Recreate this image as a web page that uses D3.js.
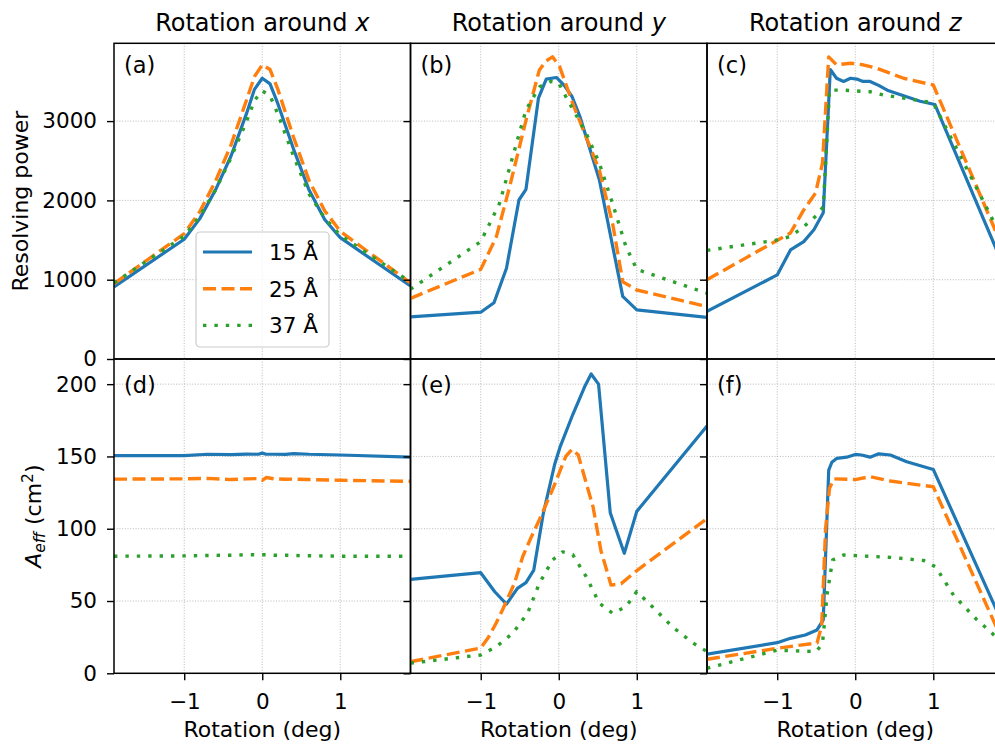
<!DOCTYPE html>
<html>
<head>
<meta charset="utf-8">
<script src="https://cdn.jsdelivr.net/npm/d3@7"></script>
<style>
  html, body { margin: 0; padding: 0; background: #fff; }
  svg { display: block; font-family: "DejaVu Sans", sans-serif; }
</style>
</head>
<body>
<svg id="chart" width="995" height="744"></svg>
<script>
// ---- axis ticks ----
const angleTicks = [-1, 0, 1];
const resTicks = [0, 1000, 2000, 3000];
const aeffTicks = [0, 50, 100, 150, 200];
const wavelengths = ["15 Å", "25 Å", "37 Å"];
const columnTitles = ["x", "y", "z"];
const panelTags = ["(a)", "(b)", "(c)", "(d)", "(e)", "(f)"];

// ---- (a) resolving power, rotation around x ----
const rxAngle  = [-1.9, -1, -0.8, -0.6, -0.4, -0.2, -0.1, 0, 0.1, 0.2, 0.4, 0.6, 0.8, 1, 1.9];
const rxRes15  = [910, 1510, 1770, 2130, 2560, 3100, 3400, 3540, 3470, 3220, 2650, 2130, 1760, 1530, 920];
const rxRes25  = [950, 1580, 1860, 2240, 2700, 3270, 3560, 3710, 3650, 3400, 2800, 2250, 1870, 1610, 960];
const rxRes37  = [960, 1550, 1800, 2130, 2540, 3000, 3260, 3380, 3320, 3090, 2560, 2080, 1780, 1560, 970];

// ---- (b) resolving power, rotation around y ----
const ryAngle15 = [-1.9, -1, -0.83, -0.67, -0.51, -0.42, -0.26, -0.16, -0.03, 0.07, 0.17, 0.27, 0.52, 0.82, 1, 1.9];
const ryRes15   = [530, 590, 710, 1145, 2005, 2140, 3290, 3530, 3550, 3450, 3310, 3060, 2260, 790, 620, 525];
const ryAngle25 = [-1.9, -1, -0.8, -0.63, -0.42, -0.25, -0.16, -0.08, 0.01, 0.18, 0.35, 0.52, 0.69, 0.82, 1, 1.9];
const ryRes25   = [765, 1130, 1540, 2170, 3010, 3640, 3760, 3810, 3690, 3220, 2800, 2380, 1710, 975, 870, 660];
const ryAngle37 = [-1.9, -1, -0.76, -0.59, -0.42, -0.25, -0.1, 0, 0.09, 0.35, 0.52, 0.69, 0.86, 1, 1.9];
const ryRes37   = [880, 1480, 1960, 2550, 3140, 3430, 3500, 3480, 3310, 2850, 2470, 1960, 1420, 1130, 830];

// ---- (c) resolving power, rotation around z ----
const rzAngle15 = [-1.9, -1, -0.83, -0.66, -0.53, -0.41, -0.32, -0.24, -0.15, -0.06, 0.02, 0.1, 0.19, 0.3, 0.41, 0.62, 0.83, 1.02, 1.9];
const rzRes15   = [600, 1060, 1375, 1480, 1630, 1845, 3650, 3540, 3500, 3540, 3530, 3500, 3500, 3450, 3390, 3320, 3250, 3210, 1170];
const rzAngle25 = [-1.9, -0.83, -0.66, -0.51, -0.42, -0.34, -0.24, -0.06, 0.1, 0.28, 0.62, 1.0, 1.9];
const rzRes25   = [1000, 1590, 1880, 2090, 2470, 3810, 3710, 3730, 3710, 3665, 3540, 3455, 1380];
const rzAngle37 = [-1.9, -1, -0.83, -0.66, -0.49, -0.41, -0.33, -0.15, 0.02, 0.19, 0.36, 0.62, 1.0, 1.9];
const rzRes37   = [1370, 1500, 1545, 1670, 1815, 1920, 3390, 3390, 3380, 3370, 3330, 3290, 3230, 1490];

// ---- (d) effective area, rotation around x ----
const axAngle  = [-1.9, -1, -0.7, -0.4, -0.2, -0.05, 0, 0.05, 0.15, 0.3, 0.4, 0.6, 1, 1.9];
const axArea15 = [150.5, 150.5, 151.5, 151.3, 151.6, 151.5, 152.3, 151.5, 151.5, 151.4, 152, 151.5, 151, 149.5];
const axArea25 = [134.3, 134.5, 134.8, 134, 134.5, 134.7, 133.5, 135.4, 134.5, 134.2, 134.3, 134, 133.5, 132.8];
const axArea37 = [81, 81.2, 81.5, 81.7, 82, 82, 82, 82, 81.7, 81.7, 81.5, 81.3, 81, 81];

// ---- (e) effective area, rotation around y ----
const ayAngle15 = [-1.9, -1, -0.82, -0.67, -0.53, -0.42, -0.32, -0.2, -0.05, 0.02, 0.18, 0.33, 0.415, 0.51, 0.66, 0.84, 1.0, 1.9];
const ayArea15  = [65, 69.6, 56.4, 47.9, 58.8, 62.7, 71.4, 110, 145, 157, 179, 198, 207, 200, 111, 83, 112, 171];
const ayAngle25 = [-1.9, -1, -0.9, -0.8, -0.72, -0.57, -0.46, -0.35, -0.25, -0.08, 0.09, 0.17, 0.25, 0.44, 0.54, 0.67, 0.8, 1.0, 1.9];
const ayArea25  = [8, 17.5, 25, 35, 44, 62, 81, 94.5, 106, 127, 150, 155, 151, 115, 85, 61, 62, 71, 107];
const ayAngle37 = [-1.9, -1, -0.8, -0.59, -0.4, -0.25, -0.08, 0.05, 0.18, 0.35, 0.52, 0.69, 0.86, 1.0, 1.2, 1.46, 1.72, 1.9];
const ayArea37  = [7, 12.7, 18.4, 27.7, 41.5, 62, 78.4, 84, 82, 67, 48.5, 41.5, 46, 56.5, 46, 32, 21, 15];

// ---- (f) effective area, rotation around z ----
const azAngle15 = [-1.9, -1, -0.83, -0.64, -0.49, -0.41, -0.34, -0.3, -0.235, -0.11, 0, 0.08, 0.19, 0.3, 0.45, 0.66, 1.0, 1.9];
const azArea15  = [13.3, 21.2, 24.2, 26.5, 30, 37, 140.6, 146, 148.7, 149.5, 151.4, 151, 149.5, 151.8, 151, 146.3, 141, 33];
const azAngle25 = [-1.9, -1, -0.49, -0.43, -0.38, -0.33, -0.27, 0, 0.19, 0.45, 1.0, 1.9];
const azArea25  = [9.7, 17.3, 21, 33, 100, 128, 134.5, 134, 136, 133, 129, 21];
const azAngle37 = [-1.9, -1, -0.5, -0.42, -0.36, -0.29, -0.15, 0, 0.45, 0.88, 1.03, 1.26, 1.56, 1.73, 1.9];
const azArea37  = [3.5, 16, 15, 20.7, 55, 78.4, 81.8, 81.4, 80.2, 78, 73.7, 54, 37, 29, 20];

// ---- series styling ----
const seriesStyle = [
  { color: "#1f77b4", width: 3.2, dash: null },
  { color: "#ff7f0e", width: 3.4, dash: "13,5.5" },
  { color: "#2ca02c", width: 3.4, dash: "3.4,8" }
];

const zip = (xs, ys) => xs.map((x, i) => [x, ys[i]]);

const panels = [
  { row: 0, col: 0, series: [zip(rxAngle, rxRes15), zip(rxAngle, rxRes25), zip(rxAngle, rxRes37)] },
  { row: 0, col: 1, series: [zip(ryAngle15, ryRes15), zip(ryAngle25, ryRes25), zip(ryAngle37, ryRes37)] },
  { row: 0, col: 2, series: [zip(rzAngle15, rzRes15), zip(rzAngle25, rzRes25), zip(rzAngle37, rzRes37)] },
  { row: 1, col: 0, series: [zip(axAngle, axArea15), zip(axAngle, axArea25), zip(axAngle, axArea37)] },
  { row: 1, col: 1, series: [zip(ayAngle15, ayArea15), zip(ayAngle25, ayArea25), zip(ayAngle37, ayArea37)] },
  { row: 1, col: 2, series: [zip(azAngle15, azArea15), zip(azAngle25, azArea25), zip(azAngle37, azArea37)] }
];

// ---- layout ----
const colLeft = 114, colWidth = 296.5;
const rowTop = [43.3, 359], rowBottom = [359, 673.3];
const angleDomain = [-1.9, 1.9];
const yDomains = [[0, 3981], [0, 217.4]];
const yTicks = [resTicks, aeffTicks];
const tickLabel = d => (d < 0 ? "\u2212" + Math.abs(d) : String(d));

const svg = d3.select("#chart");
const defs = svg.append("defs");

const xScales = [0, 1, 2].map(c =>
  d3.scaleLinear().domain(angleDomain).range([colLeft + c * colWidth, colLeft + (c + 1) * colWidth]));
const yScales = [0, 1].map(r =>
  d3.scaleLinear().domain(yDomains[r]).range([rowBottom[r], rowTop[r]]));

const line = (x, y) => d3.line().x(d => x(d[0])).y(d => y(d[1]));

panels.forEach((p, i) => {
  const x = xScales[p.col], y = yScales[p.row];
  const [x0, x1] = x.range();
  const [y1, y0] = y.range();
  const g = svg.append("g");

  defs.append("clipPath").attr("id", "clip" + i)
    .append("rect").attr("x", x0).attr("y", y0).attr("width", x1 - x0).attr("height", y1 - y0);

  // dotted grid
  const grid = g.append("g").attr("stroke", "#b0b0b0").attr("stroke-width", 0.9)
    .attr("stroke-dasharray", "1,1.7");
  angleTicks.forEach(t => grid.append("line")
    .attr("x1", x(t)).attr("x2", x(t)).attr("y1", y0).attr("y2", y1));
  yTicks[p.row].forEach(t => grid.append("line")
    .attr("x1", x0).attr("x2", x1).attr("y1", y(t)).attr("y2", y(t)));

  // data lines
  const lines = g.append("g").attr("clip-path", `url(#clip${i})`);
  p.series.forEach((s, k) => {
    const st = seriesStyle[k];
    lines.append("path").datum(s)
      .attr("d", line(x, y))
      .attr("fill", "none")
      .attr("stroke", st.color)
      .attr("stroke-width", st.width)
      .attr("stroke-linejoin", "round")
      .attr("stroke-dasharray", st.dash);
  });

  // left axis with outward ticks
  const yAxis = d3.axisLeft(y).tickValues(yTicks[p.row]).tickSize(7).tickPadding(10).tickSizeOuter(0)
    .tickFormat(p.col === 0 ? tickLabel : "");
  const ya = g.append("g").attr("transform", `translate(${x0},0)`).call(yAxis);
  ya.select(".domain").remove();
  ya.selectAll("line").attr("stroke", "#000").attr("stroke-width", 1.4);
  ya.selectAll("text").attr("font-size", 21.5).attr("fill", "#000").attr("font-family", "DejaVu Sans");

  if (p.row === 1) {
    const xAxis = d3.axisBottom(x).tickValues(angleTicks).tickSize(7).tickPadding(13).tickSizeOuter(0)
      .tickFormat(tickLabel);
    const xa = g.append("g").attr("transform", `translate(0,${y1})`).call(xAxis);
    xa.select(".domain").remove();
    xa.selectAll("line").attr("stroke", "#000").attr("stroke-width", 1.4);
    xa.selectAll("text").attr("font-size", 21.5).attr("fill", "#000").attr("font-family", "DejaVu Sans");
  }

  // frame
  g.append("rect").attr("x", x0).attr("y", y0).attr("width", x1 - x0).attr("height", y1 - y0)
    .attr("fill", "none").attr("stroke", "#000").attr("stroke-width", 1.5);

  // panel tag
  g.append("text").attr("x", x0 + 10).attr("y", p.row === 0 ? y0 + 30 : y0 + 34)
    .attr("font-size", 22.5).text(panelTags[i]);
});

// column titles and x labels
columnTitles.forEach((axisName, c) => {
  const x = xScales[c];
  const cx = (x.range()[0] + x.range()[1]) / 2;
  const t = svg.append("text").attr("x", cx).attr("y", 30.5).attr("text-anchor", "middle")
    .attr("font-size", 24);
  t.append("tspan").text("Rotation around ");
  t.append("tspan").attr("font-style", "italic").text(axisName);

  svg.append("text").attr("x", cx).attr("y", 737).attr("text-anchor", "middle")
    .attr("font-size", 22).text("Rotation (deg)");
});

// y-axis titles
const ymid0 = (rowTop[0] + rowBottom[0]) / 2, ymid1 = (rowTop[1] + rowBottom[1]) / 2;
svg.append("text").attr("transform", `translate(28,${ymid0}) rotate(-90)`)
  .attr("text-anchor", "middle").attr("font-size", 22).text("Resolving power");

const aLabel = svg.append("text").attr("transform", `translate(41,${ymid1}) rotate(-90)`)
  .attr("text-anchor", "middle").attr("font-size", 22);
aLabel.append("tspan").attr("font-style", "italic").text("A");
aLabel.append("tspan").attr("font-style", "italic").attr("font-size", 15.5).attr("dy", 4).text("eff");
aLabel.append("tspan").attr("dy", -4).text(" (cm");
aLabel.append("tspan").attr("font-size", 15.5).attr("dy", -8).text("2");
aLabel.append("tspan").attr("dy", 8).text(")");

// legend in panel (a)
const leg = svg.append("g").attr("transform", "translate(196,232)");
leg.append("rect").attr("width", 133).attr("height", 115).attr("rx", 4)
  .attr("fill", "#fff").attr("fill-opacity", 0.8).attr("stroke", "#cccccc").attr("stroke-width", 1.2);
wavelengths.forEach((w, k) => {
  const yy = 20 + k * 36.7;
  const st = seriesStyle[k];
  leg.append("line").attr("x1", 7).attr("x2", 56).attr("y1", yy).attr("y2", yy)
    .attr("stroke", st.color).attr("stroke-width", st.width).attr("stroke-dasharray", st.dash);
  leg.append("text").attr("x", 73).attr("y", yy + 7.8).attr("font-size", 21.5).text(w);
});
</script>
</body>
</html>
